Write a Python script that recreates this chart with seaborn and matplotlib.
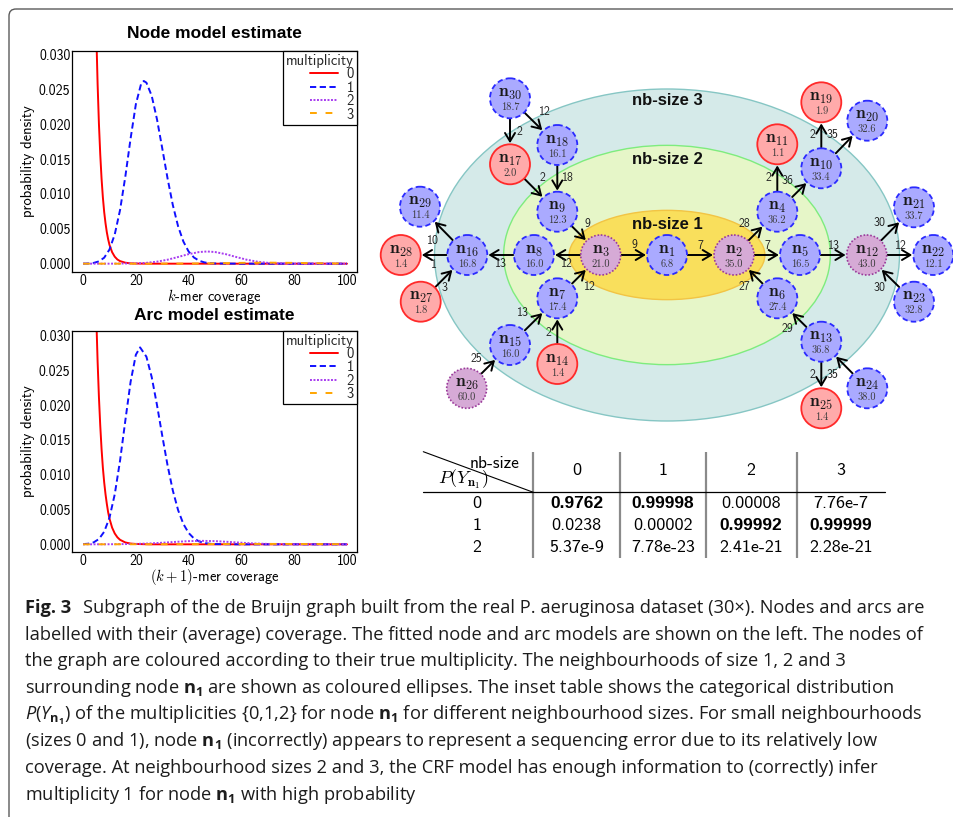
import numpy as np
import pandas as pd
import matplotlib
matplotlib.use("Agg")
import matplotlib.pyplot as plt
import seaborn as sns
from matplotlib.patches import Circle, Ellipse, FancyArrowPatch, FancyBboxPatch
from matplotlib.lines import Line2D

# ---------------- data: fitted coverage models ----------------
mult_levels = ["0", "1", "2", "3"]

node_m0_x = [0, 1, 2, 3, 4, 5, 5.5, 6, 6.5, 7, 7.5, 8, 8.5, 9, 9.5, 10, 11, 12, 13, 14, 16, 18, 20,
             25, 30, 40, 50, 60, 70, 80, 90, 100]
node_m0_y = [0.404, 0.245, 0.149, 0.090, 0.0547, 0.0332, 0.0258, 0.0201, 0.0157, 0.0122, 0.0095, 0.0074,
             0.0058, 0.0045, 0.0035, 0.0027, 0.00165, 0.0010, 0.0006, 0.00037, 0.00014, 0.00005, 0.00002,
             0, 0, 0, 0, 0, 0, 0, 0, 0]
node_m1_x = [0, 2, 4, 6, 8, 10, 12, 14, 16, 18, 20, 22, 23, 24, 26, 28, 30, 32, 34, 36, 38, 40, 42, 44,
             46, 48, 50, 60, 70, 80, 90, 100]
node_m1_y = [0.00001, 0.00003, 0.00011, 0.00033, 0.00086, 0.00203, 0.0042, 0.00768, 0.01247, 0.01794,
             0.02287, 0.02581, 0.0262, 0.02596, 0.02408, 0.02072, 0.01654, 0.01225, 0.00842, 0.00537,
             0.00318, 0.00174, 0.00089, 0.00042, 0.00018, 0.00007, 0.00003, 0, 0, 0, 0, 0]
node_m2_x = [0, 10, 20, 24, 28, 32, 36, 40, 44, 47, 50, 54, 58, 62, 66, 70, 74, 80, 90, 100]
node_m2_y = [0, 0, 0.00005, 0.00012, 0.00029, 0.00057, 0.00096, 0.00137, 0.00167, 0.00175, 0.00167,
             0.00137, 0.00096, 0.00057, 0.00029, 0.00012, 0.00005, 0.00001, 0, 0]
node_m3_x = [0, 30, 40, 50, 60, 70, 80, 90, 100]
node_m3_y = [0, 0, 0.000015, 0.000054, 0.000116, 0.00015, 0.000116, 0.000054, 0.000015]

arc_m0_x = [0, 1, 2, 3, 4, 5, 5.5, 6, 6.5, 7, 7.5, 8, 8.5, 9, 9.5, 10, 11, 12, 13, 14, 16, 18, 20,
            25, 30, 40, 50, 60, 70, 80, 90, 100]
arc_m0_y = [0.287, 0.186, 0.121, 0.078, 0.0506, 0.0327, 0.0263, 0.0212, 0.0171, 0.0137, 0.0110, 0.0089,
            0.0072, 0.0058, 0.0046, 0.0037, 0.0024, 0.00156, 0.00101, 0.00065, 0.00027, 0.00011, 0.00005,
            0, 0, 0, 0, 0, 0, 0, 0, 0]
arc_m1_x = [0, 2, 4, 6, 8, 10, 12, 14, 16, 18, 20, 21.6, 24, 26, 28, 30, 32, 34, 36, 38, 40, 42, 44,
            46, 48, 50, 60, 70, 80, 90, 100]
arc_m1_y = [0.00003, 0.00009, 0.00028, 0.00076, 0.00181, 0.00382, 0.00719, 0.0120, 0.01776, 0.02334,
            0.02725, 0.0283, 0.02696, 0.02404, 0.02004, 0.01561, 0.01137, 0.00774, 0.00492, 0.00293,
            0.00163, 0.00085, 0.00041, 0.00019, 0.00008, 0.00003, 0, 0, 0, 0, 0]
arc_m2_x = [0, 10, 20, 25, 30, 35, 40, 45, 50, 55, 60, 65, 70, 75, 80, 90, 100]
arc_m2_y = [0, 0.00001, 0.00006, 0.00012, 0.00023, 0.00035, 0.00046, 0.0005, 0.00046, 0.00035, 0.00023,
            0.00012, 0.00006, 0.00002, 0.00001, 0, 0]
arc_m3_x = [0, 40, 60, 70, 80, 100]
arc_m3_y = [0, 0.00002, 0.00005, 0.00006, 0.00005, 0.00002]

x_ticks = [0, 20, 40, 60, 80, 100]
y_ticks = [0.000, 0.005, 0.010, 0.015, 0.020, 0.025, 0.030]
y_tick_labels = ["0.000", "0.005", "0.010", "0.015", "0.020", "0.025", "0.030"]

# ---------------- data: de Bruijn subgraph ----------------
node_ids = list(range(1, 31))
node_cov = [6.8, 35.0, 21.0, 36.2, 16.5, 27.4, 17.4, 16.0, 12.3, 33.4, 1.1, 43.0, 36.8, 1.4, 16.0,
            16.8, 2.0, 16.1, 1.9, 32.6, 33.7, 12.1, 32.8, 38.0, 1.4, 60.0, 1.8, 1.4, 11.4, 18.7]
node_mult = [1, 2, 2, 1, 1, 1, 1, 1, 1, 1, 0, 2, 1, 0, 1, 1, 0, 1, 0, 1, 1, 1, 1, 1, 0, 2, 0, 0, 1, 1]
node_px = [667, 734, 600.7, 777.3, 800, 777.3, 557.3, 534, 557.3, 821.3, 777.3, 866.7, 821.3, 557.3, 510,
           467.3, 510, 557.3, 821.3, 867.3, 914, 933.3, 914, 867.3, 821.3, 466.7, 420.7, 400.7, 420, 510]
node_py = [255, 255, 255, 211.7, 255, 298.3, 298.3, 255, 211.7, 168.3, 144.3, 255, 341.7, 364, 345,
           255, 164.3, 145, 102.3, 120.7, 207.3, 255, 301.7, 388.3, 408.3, 388.3, 301.7, 255, 206.7, 98.3]

edge_src = [30, 30, 18, 17, 9, 3, 3, 8, 16, 16, 27, 7, 15, 14, 26, 1, 2, 2, 6, 4, 4, 10, 10, 5, 12, 12, 23, 13, 13, 24]
edge_dst = [17, 18, 9, 9, 3, 1, 8, 16, 29, 28, 16, 3, 7, 7, 15, 2, 4, 5, 2, 11, 10, 19, 20, 12, 21, 22, 12, 6, 25, 13]
edge_cov = [2, 12, 18, 2, 9, 9, 12, 13, 10, 1, 3, 12, 13, 2, 25, 7, 28, 7, 27, 2, 36, 2, 35, 13, 30, 12, 30, 29, 2, 35]
edge_lx = [519, 545, 568.3, 542.3, 587.3, 634, 567.3, 500.7, 433.3, 434, 444, 590, 522.7, 548.3, 476.7,
           700.7, 744, 767.3, 744, 768.3, 787.7, 812.3, 832.7, 834, 879, 900.7, 879, 787.7, 812.3, 832.7]
edge_ly = [131.7, 112.3, 178.3, 178.3, 224, 245.3, 264, 264, 241, 265, 288.3, 286.7, 313.3, 332.7, 359,
           245.7, 224.3, 245.7, 287.3, 178.3, 180.7, 135.3, 135.3, 245.7, 222.7, 245.7, 288.3, 329.3, 375, 375]

nb_sizes = ["nb-size 1", "nb-size 2", "nb-size 3"]

# ---------------- data: inset table ----------------
tbl_col_headers = ["0", "1", "2", "3"]
tbl_row_labels = ["0", "1", "2"]
tbl_values = [["0.9762", "0.99998", "0.00008", "7.76e-7"],
              ["0.0238", "0.00002", "0.99992", "0.99999"],
              ["5.37e-9", "7.78e-23", "2.41e-21", "2.28e-21"]]
tbl_bold = [[True, True, False, False],
            [False, False, True, True],
            [False, False, False, False]]

caption_head = "Fig. 3"
caption_lines = [
    "Subgraph of the de Bruijn graph built from the real P. aeruginosa dataset (30×). Nodes and arcs are",
    "labelled with their (average) coverage. The fitted node and arc models are shown on the left. The nodes of",
    "the graph are coloured according to their true multiplicity. The neighbourhoods of size 1, 2 and 3",
    r"surrounding node $\mathbf{n_1}$ are shown as coloured ellipses. The inset table shows the categorical distribution",
    r"$\mathit{P}(\mathit{Y}_{\mathbf{n_1}})$ of the multiplicities {0,1,2} for node $\mathbf{n_1}$ for different neighbourhood sizes. For small neighbourhoods",
    r"(sizes 0 and 1), node $\mathbf{n_1}$ (incorrectly) appears to represent a sequencing error due to its relatively low",
    "coverage. At neighbourhood sizes 2 and 3, the CRF model has enough information to (correctly) infer",
    r"multiplicity 1 for node $\mathbf{n_1}$ with high probability",
]

# ---------------- style ----------------
sns.set_theme(style="white")
plt.rcParams['font.family'] = ['DejaVu Sans']
plt.rcParams['mathtext.fontset'] = 'cm'
plt.rcParams['mathtext.rm'] = 'Open Sans'
plt.rcParams['mathtext.it'] = 'Open Sans:italic'
plt.rcParams['mathtext.bf'] = 'Open Sans:bold'
plt.rcParams['mathtext.sf'] = 'Open Sans'

pal = {"0": "#ff0000", "1": "#1010ff", "2": "#a83cf0", "3": "#ffa500"}
dash_map = {"0": "", "1": (3.2, 1.8), "2": (1.0, 0.8), "3": (3.5, 4.5)}
LW = 1.4

W, H = 954, 817
fig = plt.figure(figsize=(W / 100, H / 100), dpi=100)
fig.patch.set_facecolor("white")

# overlay axes in pixel coordinates
ax0 = fig.add_axes([0, 0, 1, 1], zorder=0)
ax0.set_xlim(0, W)
ax0.set_ylim(H, 0)
ax0.axis("off")

# outer frame
ax0.add_patch(FancyBboxPatch((9, 9), 1100, 1000, boxstyle="round,pad=0,rounding_size=7",
                             fill=False, ec="#5a5a5a", lw=1.0, zorder=1))


def draw_model(rect, curves, title, xlabel, ylim, title_y, xlabel_y):
    ax = fig.add_axes(rect, zorder=2)
    frames = []
    for m, (xs, ys) in zip(mult_levels, curves):
        frames.append(pd.DataFrame({"coverage": xs, "density": ys, "multiplicity": m}))
    df = pd.concat(frames, ignore_index=True)
    sns.lineplot(data=df, x="coverage", y="density", hue="multiplicity", style="multiplicity",
                 hue_order=mult_levels, style_order=mult_levels, palette=pal, dashes=dash_map,
                 linewidth=LW, estimator=None, legend=False, ax=ax)
    ax.set_facecolor("white")
    ax.set_xlim(-4.2, 103.8)
    ax.set_ylim(*ylim)
    ax.set_xticks(x_ticks)
    ax.set_xticklabels([str(t) for t in x_ticks])
    ax.set_yticks(y_ticks)
    ax.set_yticklabels(y_tick_labels)
    ax.tick_params(axis="both", length=0, labelsize=10, colors="black", labelfontfamily="cmss10")
    ax.tick_params(axis="x", pad=1.5)
    ax.tick_params(axis="y", pad=1)
    for sp in ax.spines.values():
        sp.set_color("black")
        sp.set_linewidth(0.9)
        sp.set_visible(True)
    ax.grid(False)
    ax.set_ylabel("probability density", fontfamily="cmss10", fontsize=10.5, color="black")
    ax.yaxis.set_label_coords(-0.13, 0.5)
    ax.set_xlabel(xlabel, fontfamily="cmss10", fontsize=10.5, color="black", va="top")
    ax.xaxis.set_label_coords(0.5, xlabel_y)
    ax.text(0.5, title_y, title, transform=ax.transAxes, ha="center", va="center",
            fontfamily="Liberation Sans", fontweight="bold", fontsize=12.5, color="black")
    handles = [Line2D([], [], color=pal[m], lw=LW,
                      linestyle="-" if dash_map[m] == "" else (0, dash_map[m])) for m in mult_levels]
    leg = ax.legend(handles, mult_levels, title="multiplicity", loc="upper right", borderaxespad=0,
                    frameon=True, fancybox=False, framealpha=1, edgecolor="black",
                    prop={"family": "cmss10", "size": 10.5},
                    title_fontproperties={"family": "cmss10", "size": 10.5},
                    alignment="right", handlelength=1.9, handletextpad=0.6, labelspacing=-0.04,
                    borderpad=0.2)
    leg.get_frame().set_linewidth(0.9)
    return ax


draw_model([72 / W, (H - 271.7) / H, 285 / W, 220.7 / H],
           [(node_m0_x, node_m0_y), (node_m1_x, node_m1_y), (node_m2_x, node_m2_y), (node_m3_x, node_m3_y)],
           "Node model estimate", r"$k$-mer coverage", (-0.00115, 0.0305), 1.0814, -0.068)
draw_model([72 / W, (H - 551.7) / H, 285 / W, 221 / H],
           [(arc_m0_x, arc_m0_y), (arc_m1_x, arc_m1_y), (arc_m2_x, arc_m2_y), (arc_m3_x, arc_m3_y)],
           "Arc model estimate", r"$(k+1)$-mer coverage", (-0.00106, 0.0307), 1.071, -0.068)

# ---------------- neighbourhood ellipses ----------------
cx, cy = 667, 255
ax0.add_patch(Ellipse((cx, cy), 465, 332, fc="#d5eae9", ec="#86c6c4", lw=1.0, zorder=1))
ax0.add_patch(Ellipse((cx, cy), 326.7, 219.3, fc="#e6f6c8", ec="#7eec7e", lw=1.0, zorder=1.1))
ax0.add_patch(Ellipse((cx, cy), 195.7, 89.3, fc="#f9df5c", ec="#f2c444", lw=1.0, zorder=1.2))
for lbl, ly in zip(nb_sizes, [224.5, 159, 100.5]):
    ax0.text(cx, ly, lbl, ha="center", va="center", fontfamily="Liberation Sans", fontweight="bold",
             fontsize=12, color="#111111", zorder=3)

# ---------------- arcs ----------------
for s, d, c, lx, ly in zip(edge_src, edge_dst, edge_cov, edge_lx, edge_ly):
    p1 = (node_px[s - 1], node_py[s - 1])
    p2 = (node_px[d - 1], node_py[d - 1])
    ax0.add_patch(FancyArrowPatch(p1, p2, arrowstyle="->,head_length=0.6,head_width=0.36",
                                  mutation_scale=10, lw=1.4, color="black",
                                  shrinkA=15, shrinkB=15.2, zorder=4))
    ax0.text(lx, ly, str(c), ha="center", va="center", fontfamily="cmss10", fontsize=8.5,
             color="#222222", zorder=6)

# ---------------- nodes ----------------
node_style = {
    0: dict(fc="#ffaaaa", ec="#ff2a2a", ls="-", lw=1.3),
    1: dict(fc="#aaaaff", ec="#2a2aff", ls=(0, (3.0, 1.8)), lw=1.3),
    2: dict(fc="#d6aad6", ec="#9a3a9a", ls=(0, (1.0, 1.1)), lw=1.2),
}
for nid, cov, m, x, y in zip(node_ids, node_cov, node_mult, node_px, node_py):
    st = node_style[m]
    ax0.add_patch(Circle((x, y), 20, fc=st["fc"], ec=st["ec"], ls=st["ls"], lw=st["lw"], zorder=5))
    ax0.text(x, y - 1.5, r"$\mathbf{n_{%d}}$" % nid, ha="center", va="baseline", fontsize=12.5,
             color="#1a1a1a", zorder=6)
    ax0.text(x, y + 8.8, "%.1f" % cov, ha="center", va="center", fontfamily="cmr10", fontsize=7.5,
             color="#3a3a3a", zorder=6)

# ---------------- inset table ----------------
col_lines = [533.3, 620, 705.7, 796.7]
col_centers = [576.7, 662.9, 751.2, 840.9]
row_centers = [503.5, 525.5, 547.5]
for x in col_lines:
    ax0.plot([x, x], [451.7, 558.3], color="#8a8a8a", lw=1.6, zorder=3, solid_capstyle="butt")
ax0.plot([423.3, 885], [492.3, 492.3], color="black", lw=0.9, zorder=3)
ax0.plot([423.3, 533.3], [451.7, 492.3], color="black", lw=0.8, zorder=3)
ax0.text(520, 463, "nb-size", ha="right", va="center", fontfamily="cmss10", fontsize=12.5, color="black")
ax0.text(463, 479, r"$P(Y_{\mathbf{n_1}})$", ha="center", va="center", fontsize=13, color="black")
for h, x in zip(tbl_col_headers, col_centers):
    ax0.text(x, 470, h, ha="center", va="center", fontfamily="cmss10", fontsize=13, color="black")
for r, (lab, y) in enumerate(zip(tbl_row_labels, row_centers)):
    ax0.text(476.7, y, lab, ha="center", va="center", fontfamily="cmss10", fontsize=13, color="black")
    for c, x in enumerate(col_centers):
        if tbl_bold[r][c]:
            ax0.text(x, y, tbl_values[r][c], ha="center", va="center", fontfamily="Liberation Sans",
                     fontweight="bold", fontsize=12.5, color="black")
        else:
            ax0.text(x, y, tbl_values[r][c], ha="center", va="center", fontfamily="cmss10",
                     fontsize=13, color="black")

# ---------------- caption ----------------
base_fs = 12
cap_x0 = 25
head = ax0.text(cap_x0, 613, caption_head, ha="left", va="baseline", fontfamily="Open Sans",
                fontweight="bold", fontsize=base_fs, color="#1c1c1c", zorder=3)
cap = []
for i, line in enumerate(caption_lines):
    cap.append(ax0.text(cap_x0, 613 + i * 26.7, line, ha="left", va="baseline", fontfamily="Open Sans",
                        fontsize=base_fs, color="#1c1c1c", math_fontfamily="custom", zorder=3))
fig.canvas.draw()
rend = fig.canvas.get_renderer()
w_head = head.get_window_extent(rend).width
w_rest = cap[0].get_window_extent(rend).width
gap = 0.6 * base_fs * 100 / 72
scale = (922.7 - cap_x0) / (w_head + gap + w_rest)
head.set_fontsize(base_fs * scale)
for t in cap:
    t.set_fontsize(base_fs * scale)
cap[0].set_x(cap_x0 + (w_head + gap) * scale)

fig.savefig("out.png", dpi=100)
